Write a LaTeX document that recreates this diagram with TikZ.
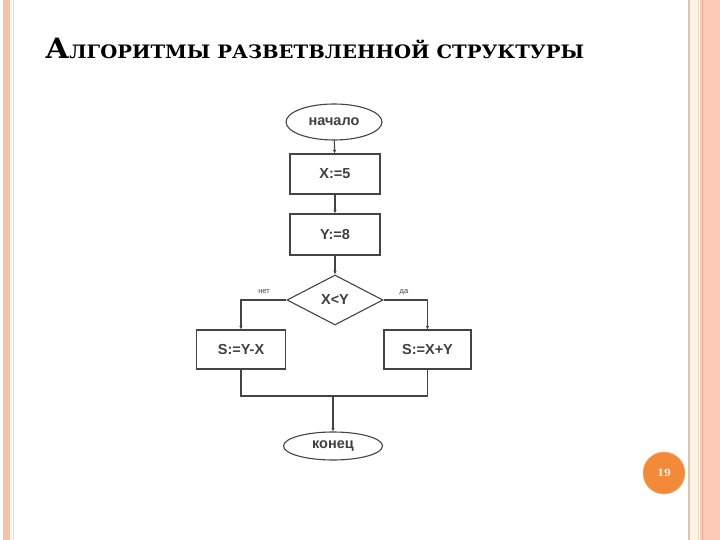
\documentclass[tikz,border=0pt]{standalone}
\usepackage{fontspec}
\setmainfont{DejaVu Serif}
\newfontfamily\fcsans{Liberation Sans}
\usetikzlibrary{shapes.geometric,arrows.meta}
\definecolor{peach}{HTML}{F6C3A8}
\definecolor{peachR}{HTML}{FCCAB6}
\definecolor{peachLine}{HTML}{EFA88E}
\definecolor{tanline}{HTML}{D9C6B6}
\definecolor{cream}{HTML}{FFF4E6}
\definecolor{flow}{HTML}{444444}
\definecolor{ftext}{HTML}{404040}
\definecolor{badge}{HTML}{F28A3A}
\tikzset{
  x=1pt, y=-1pt,
  blk/.style={draw=flow, line width=1.1pt, rectangle, inner sep=0pt,
    font=\fcsans\bfseries\fontsize{14.5}{15}\selectfont, text=ftext},
  term/.style={blk, ellipse},
  cond/.style={blk, diamond},
  arr/.style={draw=flow, line width=1.1pt, -{Latex[length=3.5pt,width=3.5pt]}},
  ln/.style={draw=flow, line width=1.1pt},
  lbl/.style={font=\fcsans\fontsize{7.5}{8}\selectfont, text=ftext, inner sep=0pt}
}
\begin{document}
\begin{tikzpicture}
\useasboundingbox (0,0) rectangle (720,540);
\fill[white] (0,0) rectangle (720,540);
% left border
\fill[peach] (3,0) rectangle (9.5,540);
\fill[cream] (9.5,0) rectangle (12,540);
\draw[tanline!60, line width=0.8pt] (13,0) -- (13,540);
% right border
\draw[tanline, line width=1.5pt] (689,0) -- (689,540);
\fill[cream] (690,0) rectangle (698,540);
\draw[tanline!70, line width=0.8pt] (698.5,0) -- (698.5,540);
\fill[peachR] (700,0) rectangle (720,540);
\draw[peachLine, line width=1.2pt] (702.5,0) -- (702.5,540);
% title
\node[anchor=base west, inner sep=0pt, xscale=1.06] (title) at (45,59)
  {\bfseries{\fontsize{28}{28}\selectfont А}{\fontsize{18.5}{19}\selectfont ЛГОРИТМЫ РАЗВЕТВЛЕННОЙ СТРУКТУРЫ}};
% flowchart
\node[term, minimum width=96, minimum height=36] (start) at (334,122) {начало};
\node[blk, minimum width=90, minimum height=40] (x5) at (335,174) {X:=5};
\node[blk, minimum width=90, minimum height=41] (y8) at (335,234.5) {Y:=8};
\node[cond, minimum width=96, minimum height=50] (c) at (335,300) {X<Y};
\node[blk, minimum width=89, minimum height=39] (l) at (241,349.5) {S:=Y-X};
\node[blk, minimum width=87, minimum height=39] (r) at (427.5,349.5) {S:=X+Y};
\node[term, minimum width=99, minimum height=28] (e) at (333,446) {конец};
\draw[arr] (start) -- (x5);
\draw[arr] (x5) -- (y8);
\draw[arr] (y8) -- (c);
\draw[arr] (c.west) -| (l.north);
\draw[arr] (c.east) -| (r.north);
\coordinate (j) at (333,396);
\draw[ln] (l.south) |- (j) -| (r.south);
\draw[arr] (j) -- (e.north);
\node[lbl] (no) at (264,292) {нет};
\node[lbl] (yes) at (404,292) {да};
% page badge
\node[circle, fill=badge, draw=badge!70!white, line width=0.6pt, minimum size=42, inner sep=0pt,
  text=cream, font=\bfseries\fontsize{10}{10}\selectfont] (pg) at (664,473) {19};
\end{tikzpicture}
\end{document}
